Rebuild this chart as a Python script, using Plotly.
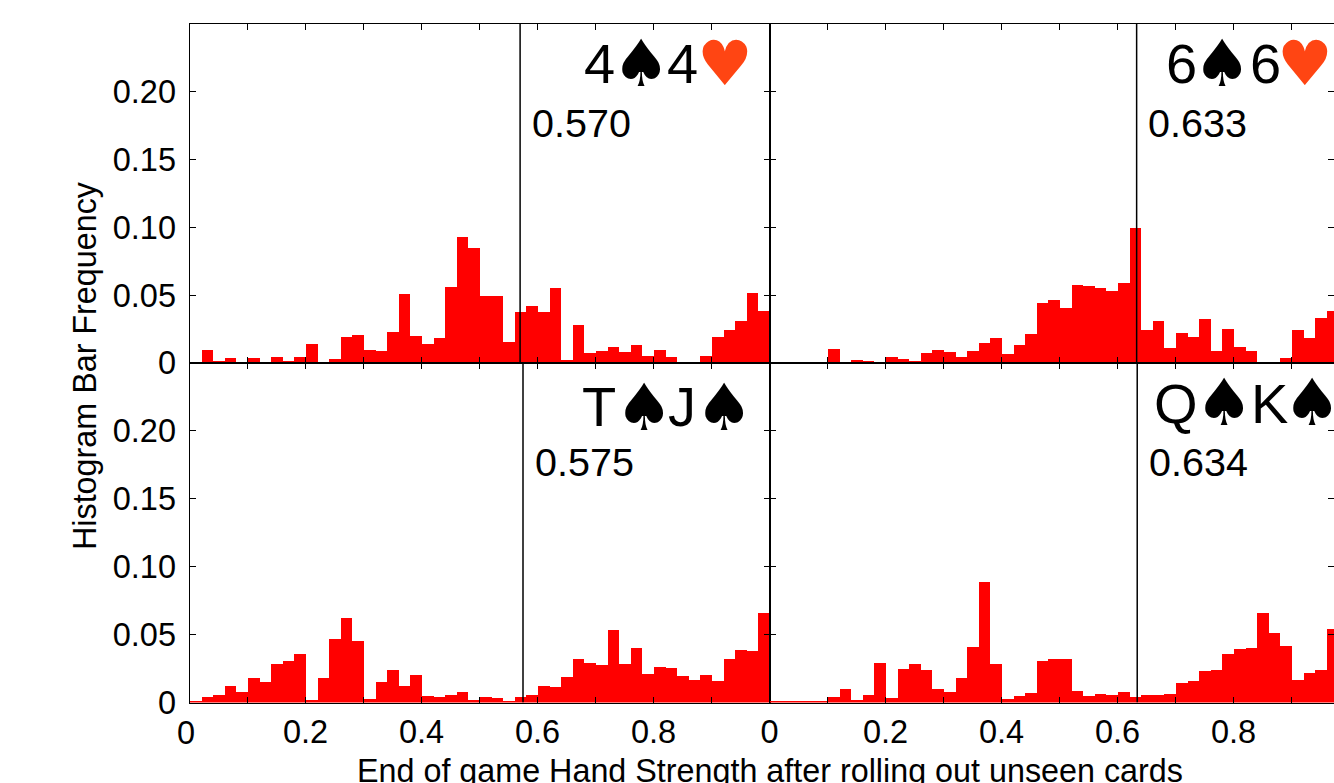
import plotly.graph_objects as go

W, H = 1334, 783
bin_edges = [round(i * 0.02, 2) for i in range(50)]

p44 = [0, .0093, .0012, .0037, .0005, .0037, 0, .0042, .001, .0042, .0138, 0, .0027, .019, .0204, .0093, .0088, .0229, .0506, .0197,
       .014, .0182, .0558, .0929, .0846, .0492, .0497, .0152, .0374, .0418, .0376, .0551, .002, .0278, .0071, .0086, .0116, .0079, .013, .0049,
       .0093, .0042, .0002, .0007, .0052, .019, .0241, .031, .0514, .0381]
p66 = [0, 0, 0, .0007, .0002, .0101, 0, .002, .001, .0007, .0042, .0027, .0012, .0074, .0096, .0081, .0042, .0086, .0147, .0182,
       .0066, .013, .0211, .044, .0465, .0406, .0573, .0565, .0551, .0531, .059, .0993, .0241, .0307, .0108, .0219, .019, .0322, .0086, .0248,
       .0116, .0086, .0002, .0002, .0034, .0241, .0182, .0332, .0381]
ptj = [.0007, .0044, .0057, .012, .0074, .0177, .0152, .0285, .0307, .0356, .0022, .0177, .0467, .0624, .0452, .0029, .015, .0241, .012, .0206,
       .0049, .0037, .0054, .0076, .0017, .0042, .0032, .001, .0037, .0054, .0118, .0113, .0189, .0324, .0288, .0273, .0533, .028, .0401, .0209,
       .0263, .0251, .0194, .0167, .0202, .016, .032, .0386, .0379, .0659]
pqk = [.0005, .0005, .0005, .0007, .0012, .0039, .0096, .002, .0054, .0293, .0034, .0246, .028, .0243, .0098, .0079, .0179, .0411, .0887, .0285,
       .0029, .0049, .0069, .0305, .0324, .0317, .0086, .0049, .0061, .0052, .008, .0043, .0052, .0054, .0064, .0147, .016, .0231, .0236, .0354,
       .0391, .0403, .0656, .0509, .0418, .0165, .0216, .0243, .0543]

values = [.570, .633, .575, .634]
value_labels = ["0.570", "0.633", "0.575", "0.634"]
x_ticks = [round(i * 0.1, 1) for i in range(11)]
x_labels_left = ["", "", "0.2", "", "0.4", "", "0.6", "", "0.8", "", ""]
x_labels_right = ["0", "", "0.2", "", "0.4", "", "0.6", "", "0.8", "", ""]
y_ticks = [0, 0.05, 0.10, 0.15, 0.20, 0.25]
y_labels = ["0", "0.05", "0.10", "0.15", "0.20", ""]

X0, XM, XR = 189.5, 769.5, 1334
YT, YM, YB = 24, 363, 702.5
TICKFONT = dict(family="Liberation Sans", size=32.5, color="black")
BLACK = "#000000"
HEART = "#FF4513"


def px(v):
    return v / W


def py(v):
    return 1 - v / H


fig = go.Figure()
panels = [(p44, "x", "y"), (p66, "x2", "y2"), (ptj, "x3", "y3"), (pqk, "x4", "y4")]
for vals, xa, ya in panels:
    fig.add_trace(go.Bar(x=bin_edges[:len(vals)], y=vals, width=0.02, offset=0,
                         marker=dict(color="#FF0000", line=dict(width=0)),
                         xaxis=xa, yaxis=ya, showlegend=False))

x_common = dict(tickmode="array", tickvals=x_ticks, ticks="inside", ticklen=6, tickwidth=1, tickcolor=BLACK,
                showline=True, linecolor=BLACK, linewidth=1, mirror="ticks", showgrid=False, zeroline=False,
                tickfont=TICKFONT, fixedrange=True)
y_common = dict(tickmode="array", tickvals=y_ticks, ticks="inside", ticklen=6, tickwidth=1, tickcolor=BLACK,
                showline=True, linecolor=BLACK, linewidth=1, mirror="ticks", showgrid=False, zeroline=False,
                tickfont=TICKFONT, range=[0, 0.25], fixedrange=True, ticklabelstandoff=6)
right_max = (XR - XM) / (XM - X0)
layout = dict(
    width=W, height=H, margin=dict(l=0, r=0, t=0, b=0, autoexpand=False), paper_bgcolor="white", plot_bgcolor="white",
    bargap=0, showlegend=False, font=dict(family="Liberation Sans", color="black"),
    xaxis=dict(x_common, domain=[px(X0), px(XM)], range=[0, 1], anchor="y", showticklabels=False),
    xaxis2=dict(x_common, domain=[px(XM), 1], range=[0, right_max], anchor="y2", showticklabels=False),
    xaxis3=dict(x_common, domain=[px(X0), px(XM)], range=[0, 1], anchor="y3", ticktext=x_labels_left),
    xaxis4=dict(x_common, domain=[px(XM), 1], range=[0, right_max], anchor="y4", ticktext=x_labels_right),
    yaxis=dict(y_common, domain=[py(YM), py(YT)], anchor="x", ticktext=y_labels),
    yaxis2=dict(y_common, domain=[py(YM), py(YT)], anchor="x2", showticklabels=False),
    yaxis3=dict(y_common, domain=[py(YB), py(YM)], anchor="x3", ticktext=y_labels),
    yaxis4=dict(y_common, domain=[py(YB), py(YM)], anchor="x4", showticklabels=False),
)
fig.update_layout(**layout)

for v, (_, xa, ya) in zip(values, panels):
    fig.add_shape(type="line", x0=v, x1=v, y0=0, y1=0.25, xref=xa, yref=ya,
                  line=dict(color=BLACK, width=1.5), layer="above")

fig.add_shape(type="line", x0=px(X0), x1=1, y0=py(YM), y1=py(YM), xref="paper", yref="paper",
              line=dict(color=BLACK, width=2), layer="above")


def note(text, x, y, size, family="Liberation Sans", color=BLACK, rot=0):
    fig.add_annotation(text=text, x=px(x), y=py(y), xref="paper", yref="paper", showarrow=False,
                       xanchor="center", yanchor="middle", textangle=rot,
                       font=dict(family=family, size=size, color=color))


SYM = "DejaVu Sans"
CARD = 56
SPADE = 65
HEART_SIZE = 62
hands = [
    [("4", 599, 63), ("♠", 641, 63), ("4", 682, 63), ("♥", 724.5, 64)],
    [("6", 1181, 63), ("♠", 1222, 63), ("6", 1265, 63), ("♥", 1305, 64)],
    [("T", 599, 406), ("♠", 644, 407), ("J", 682, 406), ("♠", 724, 407)],
    [("Q", 1176, 403), ("♠", 1224, 402), ("K", 1269, 403), ("♠", 1312, 402)],
]
for hand in hands:
    for ch, x, y in hand:
        if ch == "♠":
            note(ch, x, y, SPADE, SYM)
        elif ch == "♥":
            note(ch, x, y, HEART_SIZE, SYM, HEART)
        else:
            note(ch, x, y, CARD)

for label, x, y in zip(value_labels, [581, 1197, 584, 1198], [123, 123, 462, 462]):
    note(label, x, y, 39.5)

note("0", 186, 733, 32.5)
note("Histogram Bar Frequency", 85, 366, 32.3, rot=-90)
note("End of game Hand Strength after rolling out unseen cards", 770, 771, 32.3)

fig.write_html("out.html", config={"displayModeBar": False},
               post_script="document.body.style.margin='0';document.documentElement.style.overflow='hidden';")
